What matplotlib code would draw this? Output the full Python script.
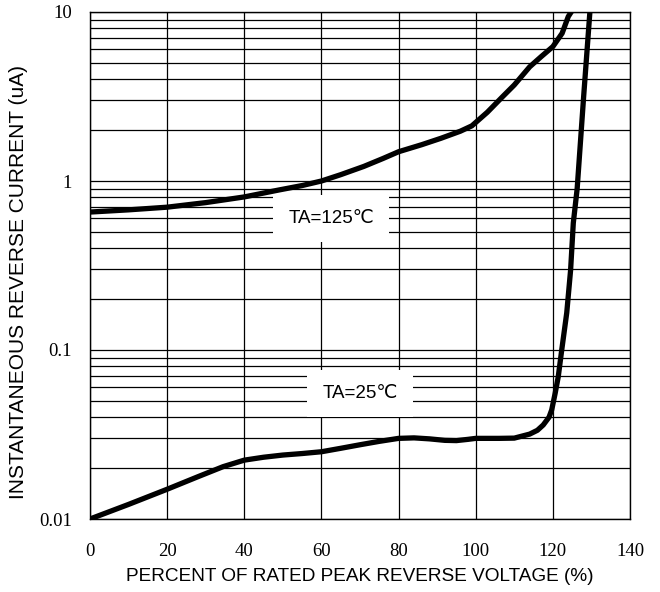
import matplotlib
matplotlib.use("Agg")
import matplotlib.pyplot as plt
import numpy as np

# data
x_125 = [0, 10, 20, 30, 40, 49, 55, 60, 65, 71, 76, 80, 86, 91, 96, 99,
         103, 107, 110, 114, 117, 120, 122.4, 124, 125, 125.4]
y_125 = [0.655, 0.675, 0.70, 0.745, 0.805, 0.885, 0.94, 1.0, 1.09, 1.22, 1.36,
         1.49, 1.64, 1.79, 1.97, 2.12, 2.55, 3.16, 3.7, 4.74, 5.45, 6.24,
         7.48, 9.4, 10.2, 11.0]

x_25 = [0, 10, 20, 28, 34.5, 40, 45, 50, 55, 60, 65, 70, 75, 80, 84, 88, 92,
        95, 98, 100, 106, 110, 114, 116, 117.5, 119, 119.7, 120.6, 121.4,
        122.3, 123.6, 124.6, 125.3, 126.3, 128, 129.6, 130]
y_25 = [0.0100, 0.0122, 0.0150, 0.0178, 0.0204, 0.0223, 0.0232, 0.0239,
        0.0244, 0.0250, 0.0262, 0.0275, 0.0288, 0.0300, 0.0302, 0.0298,
        0.0292, 0.0291, 0.0296, 0.0300, 0.0300, 0.0301, 0.0318, 0.0335,
        0.036, 0.040, 0.0442, 0.0555, 0.0695, 0.1, 0.166, 0.297, 0.564,
        0.9, 3.2, 10.0, 11.5]

x_ticks = [0, 20, 40, 60, 80, 100, 120, 140]
y_ticks = [0.01, 0.1, 1, 10]
y_tick_labels = ["0.01", "0.1", "1", "10"]

sans = ["Liberation Sans", "DejaVu Sans"]
serif = ["Liberation Serif", "DejaVu Serif"]

fig = plt.figure(figsize=(6.6, 5.92), dpi=100)
ax = fig.add_axes([90 / 660, 1 - 519 / 592, 540 / 660, 507 / 592])

ax.set_yscale("log")
ax.set_xlim(0, 140)
ax.set_ylim(0.01, 10)

# grid: verticals every 20, horizontals at every decade step
ax.set_xticks(x_ticks)
ax.set_yticks(y_ticks, y_tick_labels)
ax.yaxis.set_minor_locator(matplotlib.ticker.LogLocator(base=10, subs=np.arange(2, 10)))
ax.yaxis.set_minor_formatter(matplotlib.ticker.NullFormatter())
ax.grid(True, which="both", axis="y", color="black", lw=0.9)
ax.grid(True, which="major", axis="x", color="black", lw=0.9)
ax.set_axisbelow(True)

ax.tick_params(which="both", length=0)
ax.tick_params(axis="x", pad=17)
ax.tick_params(axis="y", pad=13)
for lab in ax.get_xticklabels() + ax.get_yticklabels():
    lab.set_family(serif)
    lab.set_fontsize(13.5)

for s in ax.spines.values():
    s.set_color("black")
    s.set_linewidth(1.0)

ax.plot(x_125, y_125, color="black", lw=3.8, solid_capstyle="butt", zorder=3)
ax.plot(x_25, y_25, color="black", lw=3.8, solid_capstyle="butt", zorder=3)

box = dict(boxstyle="square,pad=0.8", facecolor="white", edgecolor="none")
ax.text(62.5, 0.60, "TA=125℃", family=sans, fontsize=13.5, ha="center", va="center",
        bbox=box, zorder=4)
ax.text(70, 0.055, "TA=25℃", family=sans, fontsize=13.5, ha="center", va="center",
        bbox=box, zorder=4)

ax.set_xlabel("PERCENT OF RATED PEAK REVERSE VOLTAGE (%)", family=sans, fontsize=13.7,
              labelpad=6)
ax.set_ylabel("INSTANTANEOUS REVERSE CURRENT (uA)", family=sans, fontsize=15)
ax.yaxis.set_label_coords(-0.115, 0.467)

fig.savefig("out.png", dpi=100)
